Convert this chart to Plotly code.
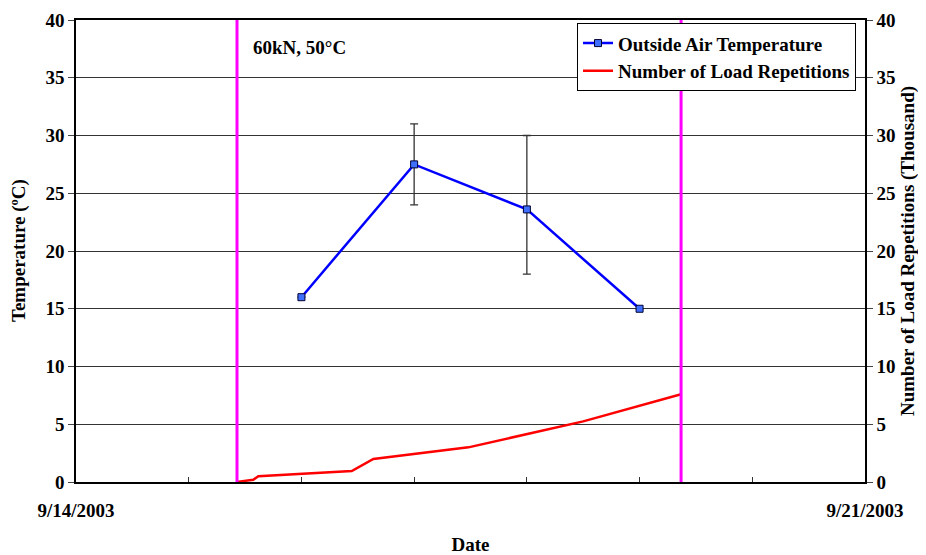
import plotly.graph_objects as go

# ---- data ----
temp_dates = ["2003-09-16", "2003-09-17", "2003-09-18", "2003-09-19"]
temp_values = [16.0, 27.5, 23.6, 15.0]
temp_err_plus = [0.0, 3.5, 6.4, 0.0]
temp_err_minus = [0.0, 3.5, 5.6, 0.0]

load_dates = ["2003-09-15 10:17", "2003-09-15 13:45", "2003-09-15 14:50",
              "2003-09-16 10:43", "2003-09-16 15:19", "2003-09-17 11:33",
              "2003-09-18 12:00", "2003-09-19 08:50"]
load_values = [0.0, 0.2, 0.5, 0.95, 2.0, 3.0, 5.25, 7.6]

marker_lines = ["2003-09-15 10:17", "2003-09-19 08:50"]

x_tick_vals = ["2003-09-14", "2003-09-15", "2003-09-16", "2003-09-17",
               "2003-09-18", "2003-09-19", "2003-09-20", "2003-09-21"]
x_tick_text = ["9/14/2003", "", "", "", "", "", "", "9/21/2003"]
y_ticks = [0, 5, 10, 15, 20, 25, 30, 35, 40]

FONT = "Liberation Serif"
FS = 19

fig = go.Figure()

fig.add_trace(go.Scatter(
    x=temp_dates, y=temp_values, name="Outside Air Temperature",
    mode="lines+markers",
    line=dict(color="#0000FF", width=2.5),
    marker=dict(symbol="square", size=7, color="#3F6FFF",
                line=dict(color="#000033", width=1)),
    error_y=dict(type="data", symmetric=False, array=temp_err_plus,
                 arrayminus=temp_err_minus, color="#333333",
                 thickness=1.3, width=4),
))

fig.add_trace(go.Scatter(
    x=load_dates, y=load_values, name="Number of Load Repetitions",
    mode="lines", yaxis="y2",
    line=dict(color="#FF0000", width=2.5),
))

for d in marker_lines:
    fig.add_shape(type="line", xref="x", yref="paper", x0=d, x1=d, y0=0, y1=1,
                  line=dict(color="#FF00FF", width=3))

fig.add_annotation(text="60kN, 50°C", xref="paper", yref="paper",
                   x=0.222, y=0.94, xanchor="left", yanchor="middle",
                   showarrow=False,
                   font=dict(size=FS, family=FONT, color="black", weight="bold"))

# left axis title as rotated annotation (placed close to the edge)
fig.add_annotation(text="Temperature (ºC)", xref="paper", yref="paper",
                   x=-0.0722, y=0.5, xanchor="center", yanchor="middle",
                   textangle=-90, showarrow=False,
                   font=dict(size=FS, family=FONT, color="black", weight="bold"))

# page body has an 8px margin, so the figure is sized/offset to compensate
fig.update_layout(
    width=918, height=547,
    margin=dict(l=68, r=61, t=12, b=73),
    paper_bgcolor="white", plot_bgcolor="white",
    font=dict(family=FONT, size=FS, color="black", weight="bold"),
    showlegend=True,
    legend=dict(x=0.635, y=0.993, xanchor="left", yanchor="top",
                bordercolor="black", borderwidth=1, bgcolor="white",
                font=dict(size=FS, family=FONT, weight="bold"),
                tracegroupgap=0, itemwidth=30),
    xaxis=dict(type="date", range=["2003-09-14", "2003-09-21"],
               tickvals=x_tick_vals, ticktext=x_tick_text,
               ticks="inside", ticklen=5, tickcolor="#333333",
               showline=True, linecolor="black", linewidth=1.5, mirror=True,
               showgrid=False, zeroline=False, automargin=False,
               ticklabelstandoff=10, ticklabeloverflow="allow",
               title=dict(text="Date", standoff=18, font=dict(size=FS, weight="bold"))),
    yaxis=dict(range=[0, 40], tickvals=y_ticks, ticks="outside", ticklen=6,
               showline=True, linecolor="black", linewidth=1.5, automargin=False,
               showgrid=True, gridcolor="#333333", gridwidth=1, zeroline=False,
               ticklabeloverflow="allow"),
    yaxis2=dict(range=[0, 40], tickvals=y_ticks, overlaying="y", side="right",
                ticks="outside", ticklen=6, automargin=False,
                showline=True, linecolor="black", linewidth=1.5,
                showgrid=False, zeroline=False, ticklabeloverflow="allow",
                title=dict(text="Number of Load Repetitions (Thousand)", standoff=6,
                           font=dict(size=FS, weight="bold"))),
)

fig.write_html("out.html")
